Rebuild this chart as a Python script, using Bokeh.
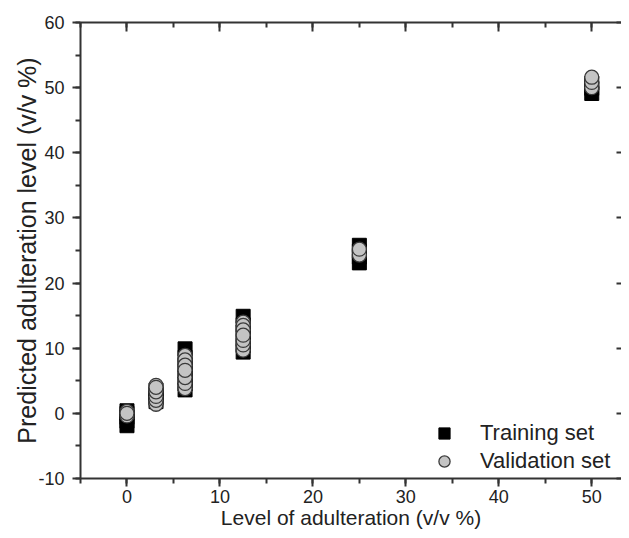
from bokeh.plotting import figure
from bokeh.models import (Range1d, LinearAxis, SingleIntervalTicker, Legend, LegendItem,
                          PrintfTickFormatter, CustomJSTickFormatter)
from bokeh.embed import file_html
from bokeh.resources import INLINE

# Training set (black squares)
train_actual = [0, 0, 0, 0, 0,
                3.125, 3.125, 3.125, 3.125,
                6.25, 6.25, 6.25, 6.25, 6.25, 6.25, 6.25,
                12.5, 12.5, 12.5, 12.5, 12.5, 12.5,
                25, 25, 25, 25,
                50, 50, 50]
train_pred = [-1.9, -1.2, -0.6, 0.0, 0.4,
              1.8, 2.4, 3.0, 3.6,
              3.6, 4.5, 5.5, 6.5, 7.5, 8.6, 9.9,
              9.4, 10.4, 11.5, 12.5, 13.6, 14.9,
              23.1, 24.0, 24.9, 25.8,
              49.1, 49.9, 50.7]

# Validation set (grey circles)
val_actual = [0, 0, 0,
              3.125, 3.125, 3.125, 3.125, 3.125, 3.125,
              6.25, 6.25, 6.25, 6.25, 6.25, 6.25, 6.25,
              12.5, 12.5, 12.5, 12.5, 12.5, 12.5, 12.5,
              25, 25,
              50, 50, 50]
val_pred = [-0.4, 0.3, 0.0,
            1.4, 2.0, 2.6, 4.3, 3.3, 4.0,
            3.8, 4.6, 5.5, 8.9, 8.2, 7.4, 6.6,
            9.7, 10.5, 11.2, 14.0, 13.5, 12.8, 12.0,
            24.3, 25.2,
            50.0, 50.8, 51.6]

x_ticks_interval = 10
y_ticks_interval = 10

FONT = "Liberation Sans"
AX = "#333333"
TXT = "#222222"

p = figure(width=621, height=534, output_backend="svg", toolbar_location=None,
           x_range=Range1d(-5, 53.2), y_range=Range1d(-10, 60),
           min_border_left=80, min_border_right=0, min_border_top=22, min_border_bottom=56)
p.outline_line_color = None
p.xgrid.visible = False
p.ygrid.visible = False
p.background_fill_color = "white"
p.border_fill_color = "white"

sq = p.scatter(x=train_actual, y=train_pred, marker="square", size=14,
               fill_color="black", line_color="black", line_width=1)
ci = p.scatter(x=val_actual, y=val_pred, marker="circle", size=14,
               fill_color="#c4c4c4", line_color="#3a3a3a", line_width=1.3)

def style_axis(ax):
    ax.axis_line_color = AX
    ax.axis_line_width = 2
    ax.major_tick_line_color = AX
    ax.major_tick_line_width = 2
    ax.minor_tick_line_color = AX
    ax.minor_tick_line_width = 2
    ax.major_label_text_font = FONT
    ax.major_label_text_color = TXT
    ax.axis_label_text_font = FONT
    ax.axis_label_text_color = TXT
    ax.axis_label_text_font_style = "normal"

xa = p.xaxis[0]
xa.ticker = SingleIntervalTicker(interval=x_ticks_interval, num_minor_ticks=2)
xa.formatter = PrintfTickFormatter(format="%d")
style_axis(xa)
xa.axis_label = "Level of adulteration (v/v %)"
xa.axis_label_text_font_size = "21px"
xa.major_label_text_font_size = "18px"
xa.major_tick_out = 8
xa.major_tick_in = 0
xa.minor_tick_out = 5
xa.minor_tick_in = 0
xa.major_label_standoff = 3
xa.axis_label_standoff = 0

ya = p.yaxis[0]
ya.ticker = SingleIntervalTicker(interval=y_ticks_interval, num_minor_ticks=2)
ya.formatter = PrintfTickFormatter(format="%d")
style_axis(ya)
ya.axis_label = "Predicted adulteration level (v/v %)"
ya.axis_label_text_font_size = "25px"
ya.major_label_text_font_size = "18px"
ya.major_tick_out = 8
ya.major_tick_in = 0
ya.minor_tick_out = 5
ya.minor_tick_in = 0
ya.major_label_standoff = 8
ya.axis_label_standoff = -6

blank = CustomJSTickFormatter(code="return ''")

top = LinearAxis(ticker=SingleIntervalTicker(interval=x_ticks_interval, num_minor_ticks=2),
                 formatter=blank)
style_axis(top)
top.major_label_standoff = 0
top.major_tick_out = 0
top.major_tick_in = 9
top.minor_tick_out = 0
top.minor_tick_in = 5
p.add_layout(top, "above")

right = LinearAxis(ticker=SingleIntervalTicker(interval=y_ticks_interval, num_minor_ticks=2),
                   formatter=blank)
style_axis(right)
right.axis_line_color = None
right.major_label_standoff = 0
right.major_tick_out = 0
right.major_tick_in = 5
right.minor_tick_out = 0
right.minor_tick_in = 0
p.add_layout(right, "right")

legend = Legend(items=[LegendItem(label="Training set", renderers=[sq]),
                       LegendItem(label="Validation set", renderers=[ci])],
                location=(350, 3))
legend.border_line_color = None
legend.background_fill_alpha = 0
legend.label_text_font = FONT
legend.label_text_font_size = "22px"
legend.label_text_color = TXT
legend.glyph_width = 28
legend.glyph_height = 28
legend.label_standoff = 22
legend.spacing = 0
legend.padding = 0
legend.margin = 0
p.add_layout(legend)

open("out.html", "w").write(file_html(p, INLINE))
